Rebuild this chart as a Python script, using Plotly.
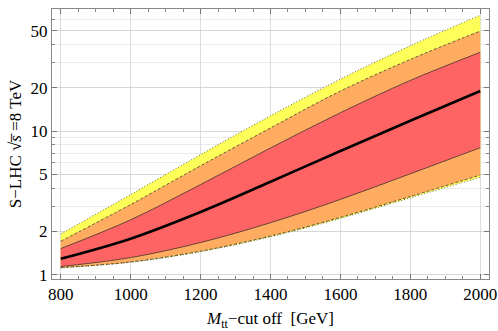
import plotly.graph_objects as go

m_cut = [800, 1000, 1200, 1400, 1600, 1800, 2000]
yellow_hi = [1.92, 3.61, 6.85, 12.76, 22.96, 39.2, 64.0]
orange_hi = [1.71, 3.08, 5.73, 10.5, 18.97, 31.5, 49.6]
red_hi = [1.52, 2.41, 4.24, 7.62, 13.4, 22.5, 35.3]
center = [1.29, 1.78, 2.73, 4.43, 7.26, 11.78, 19.0]
red_lo = [1.14, 1.315, 1.675, 2.30, 3.34, 5.04, 7.65]
orange_lo = [1.12, 1.227, 1.459, 1.858, 2.506, 3.50, 4.94]
yellow_lo = [1.115, 1.22, 1.445, 1.835, 2.465, 3.43, 4.76]

y_ticks = [1, 2, 5, 10, 20, 50]
x_ticks = [800, 1000, 1200, 1400, 1600, 1800, 2000]

YELLOW = "rgb(255,255,90)"
ORANGE = "rgb(255,172,96)"
RED = "rgb(255,100,100)"

fig = go.Figure()

def band(lo, hi, color):
    fig.add_trace(go.Scatter(x=m_cut, y=lo, mode="lines", line=dict(width=0, shape="spline"),
                             hoverinfo="skip", showlegend=False))
    fig.add_trace(go.Scatter(x=m_cut, y=hi, mode="lines", line=dict(width=0, shape="spline"),
                             fill="tonexty", fillcolor=color, hoverinfo="skip", showlegend=False))

band(yellow_lo, yellow_hi, YELLOW)
band(orange_lo, orange_hi, ORANGE)
band(red_lo, red_hi, RED)

def edge(y, dash, width=0.8, color="rgba(40,40,40,0.9)"):
    fig.add_trace(go.Scatter(x=m_cut, y=y, mode="lines",
                             line=dict(color=color, width=width, dash=dash, shape="spline"),
                             hoverinfo="skip", showlegend=False))

edge(yellow_hi, "1px,2px")
edge(yellow_lo, "1px,2px")
edge(orange_hi, "3px,2px")
edge(orange_lo, "3px,2px")
edge(red_hi, "solid", 0.8)
edge(red_lo, "solid", 0.8)
edge(center, "solid", 2.6, "black")

minor_y = [v * 10 ** k for k in range(0, 2) for v in range(1, 10)]
minor_y = [v for v in minor_y if v <= 70]

font = dict(family="Liberation Serif, DejaVu Serif, serif", size=17, color="black")

fig.update_layout(
    width=498, height=331,
    margin=dict(l=52, r=9, t=9, b=52),
    paper_bgcolor="white", plot_bgcolor="white",
    font=font,
    xaxis=dict(
        range=[775, 2025], tickvals=x_ticks, ticks="inside", ticklen=5, tickcolor="#777",
        showgrid=True, gridcolor="rgba(200,200,200,0.6)", gridwidth=1,
        showline=True, linecolor="#888", linewidth=1, mirror="ticks", zeroline=False,
        minor=dict(dtick=50, ticks="inside", ticklen=3, tickcolor="#888", showgrid=False),
        automargin=False, ticklabeloverflow="allow",
        title=dict(text="<i>M</i><sub>tt</sub>−cut off  [GeV]", standoff=10, font=dict(size=17)),
    ),
    yaxis=dict(
        type="log", range=[-0.03, 1.849], tickvals=y_ticks, ticktext=[str(v) for v in y_ticks],
        ticks="inside", ticklen=5, tickcolor="#777",
        showgrid=True, gridcolor="rgba(200,200,200,0.6)", gridwidth=1,
        showline=True, linecolor="#888", linewidth=1, mirror="ticks", zeroline=False,
        minor=dict(tickvals=minor_y, ticks="inside", ticklen=3, tickcolor="#888",
                   showgrid=True, gridcolor="rgba(215,215,215,0.5)", gridwidth=1),
        automargin=False, ticklabeloverflow="allow",
        title=dict(text="S−LHC √<i>s\u0305</i> =8 TeV", standoff=4, font=dict(size=17)),
    ),
)

fig.write_html("out.html", config={"displayModeBar": False},
               post_script="document.body.style.margin='0';")
